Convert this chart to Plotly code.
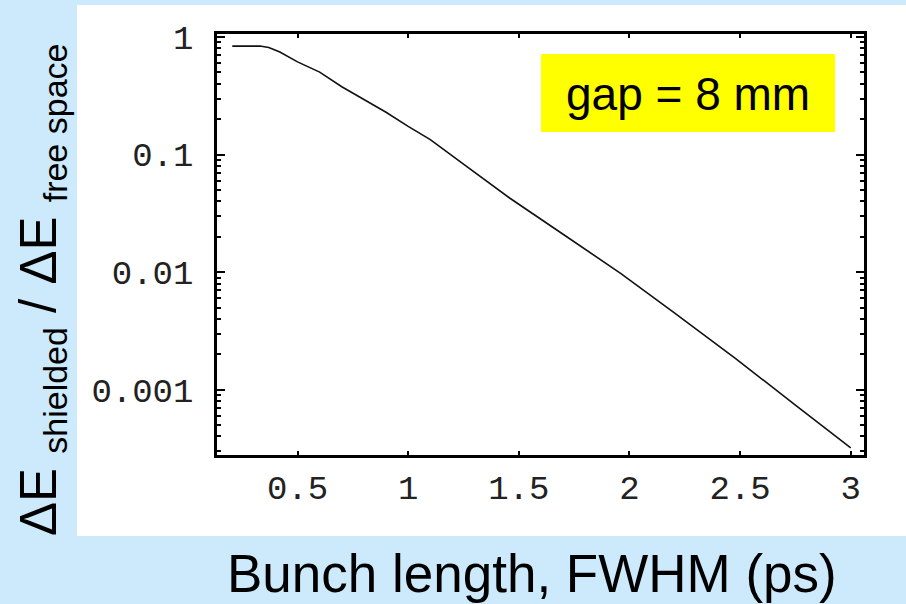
import plotly.graph_objects as go

# Data
bunch_length_ps = [0.205, 0.33, 0.37, 0.42, 0.5, 0.6, 0.7, 0.8, 0.9, 1.0, 1.1, 1.25,
                   1.46, 1.7, 1.96, 2.2, 2.48, 2.75, 3.0]
ratio = [0.838, 0.838, 0.815, 0.745, 0.615, 0.503, 0.378, 0.296, 0.229, 0.174, 0.134,
         0.0830, 0.0425, 0.0210, 0.00977, 0.00454, 0.00184, 0.000738, 0.000319]

x_tickvals = [0.5, 1, 1.5, 2, 2.5, 3]
x_ticktext = ["0.5", "1", "1.5", "2", "2.5", "3"]
y_tickvals = [1, 0.1, 0.01, 0.001]
y_ticktext = ["1", "0.1", "0.01", "0.001"]
annotation_text = "gap = 8 mm"
x_title = "Bunch length, FWHM (ps)"
y_title = ("ΔE <sub><span style='font-size:34px'>shielded</span></sub> / "
           "ΔE <sub><span style='font-size:34px'>free space</span></sub>")

W, H = 906, 604
L, R, T, B = 217, 42, 34, 149
pw, ph = W - L - R, H - T - B


def px(xp):
    return (xp - L) / pw


def py(yp):
    return (H - B - yp) / ph


minor_y = [m * 10 ** e for e in range(-4, 1) for m in range(2, 10)]

fig = go.Figure()
fig.add_trace(go.Scatter(x=bunch_length_ps, y=ratio, mode="lines",
                         line=dict(color="#111111", width=1.6),
                         showlegend=False, hoverinfo="skip"))

tickfont = dict(family="Liberation Mono, Courier New, monospace", size=34, color="#222222")

fig.update_layout(
    width=W, height=H,
    margin=dict(l=L, r=R, t=T, b=B),
    paper_bgcolor="#cdeafc",
    plot_bgcolor="white",
    xaxis=dict(range=[0.136, 3.06], tickmode="array", tickvals=x_tickvals,
               ticktext=x_ticktext, ticks="inside", ticklen=4, tickwidth=2,
               tickcolor="black", showline=True, linecolor="black", linewidth=2.5,
               mirror="ticks", showgrid=False, zeroline=False, tickfont=tickfont,
               ticklabelstandoff=0),
    yaxis=dict(type="log", range=[-3.556, 0.026], tickmode="array",
               tickvals=y_tickvals, ticktext=y_ticktext, ticks="inside",
               ticklen=8, tickwidth=2, tickcolor="black", showline=True,
               linecolor="black", linewidth=2.5, mirror="ticks", showgrid=False,
               zeroline=False, tickfont=tickfont, ticklabelstandoff=14,
               minor=dict(ticks="inside", ticklen=4, tickwidth=1.5,
                          tickcolor="black", tickmode="array", tickvals=minor_y,
                          showgrid=False)),
    shapes=[
        dict(type="rect", xref="paper", yref="paper", layer="below",
             x0=px(77), x1=px(906), y0=py(536), y1=py(5),
             fillcolor="white", line=dict(width=0)),
        dict(type="rect", xref="paper", yref="paper", layer="above",
             x0=px(541), x1=px(835), y0=py(132), y1=py(54),
             fillcolor="#ffff00", line=dict(width=0)),
    ],
    annotations=[
        dict(text=annotation_text, xref="paper", yref="paper", x=px(688), y=py(94),
             showarrow=False, font=dict(family="Liberation Sans, Arial", size=46, color="black"),
             xanchor="center", yanchor="middle"),
        dict(text=x_title, xref="paper", yref="paper", x=px(532), y=py(573),
             showarrow=False, font=dict(family="Liberation Sans, Arial", size=53, color="black"),
             xanchor="center", yanchor="middle"),
        dict(text=y_title, xref="paper", yref="paper", x=px(42), y=py(290),
             showarrow=False, textangle=-90,
             font=dict(family="Liberation Sans, Arial", size=51, color="black"),
             xanchor="center", yanchor="middle"),
    ],
)

fig.write_html("out.html")
